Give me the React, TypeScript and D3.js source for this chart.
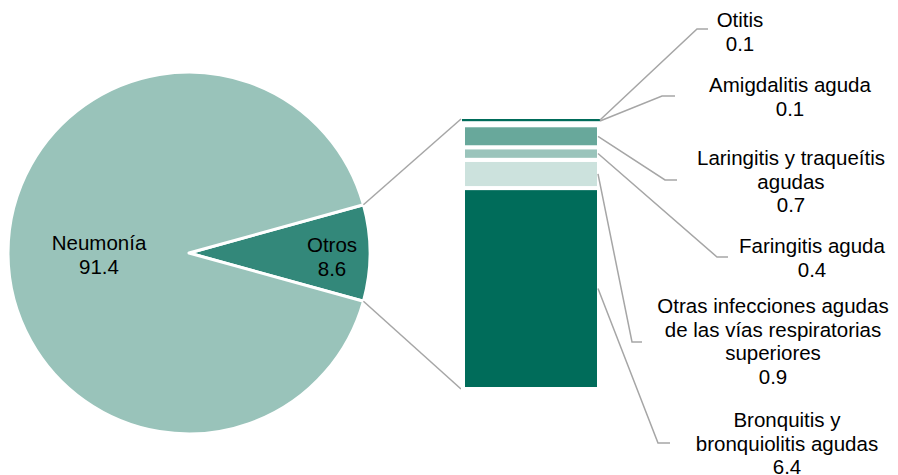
import React from "react";
import * as d3 from "d3";

// ---- data ----
const pieLabels = ["Otros", "Neumonía"];
const pieValues = [8.6, 91.4];

const barLabels = [
  ["Bronquitis y", "bronquiolitis agudas"],
  ["Otras infecciones agudas", "de las vías respiratorias", "superiores"],
  ["Faringitis aguda"],
  ["Laringitis y traqueítis", "agudas"],
  ["Amigdalitis aguda"],
  ["Otitis"],
];
const barValues = [6.4, 0.9, 0.4, 0.7, 0.1, 0.1];
const barValueText = ["6.4", "0.9", "0.4", "0.7", "0.1", "0.1"];

// ---- layout / style ----
const W = 898;
const H = 475;
const cx = 189;
const cy = 253;
const R = 181;
const barX0 = 463;
const barX1 = 599;
const barTop = 119;
const barBottom = 389;
const FONT = "'Liberation Sans', Arial, sans-serif";
const FS = 20.5;
const LH = 23.6;

const pieColors = ["#33887a", "#99c3ba"];
const barColors = ["#006c5a", "#cce2dd", "#9ac4bb", "#68a89b", "#006c5a", "#006c5a"];
const grey = "#a6a6a6";

// label anchor layout: [elbowX, elbowY, endX, textCenterX, firstBaseline]
const labelLayout = [
  [658, 443, 670, 787, 427],
  [632, 342, 642, 773, 313],
  [717, 257, 728, 812, 253],
  [665, 180, 677, 791, 165],
  [662, 96, 675, 790, 92],
  [697, 29, 708, 740, 27],
];

export default function App() {
  const pieGen = d3
    .pie<number>()
    .sort(null)
    .startAngle(Math.PI / 2 - (pieValues[0] / 100) * Math.PI)
    .endAngle(Math.PI / 2 - (pieValues[0] / 100) * Math.PI + 2 * Math.PI);
  const arcs = pieGen(pieValues);
  const arcGen = d3.arc<d3.PieArcDatum<number>>().innerRadius(0).outerRadius(R);

  const total = d3.sum(barValues);
  const y = d3.scaleLinear().domain([0, total]).range([barBottom, barTop]);
  const cum: number[] = [];
  barValues.reduce((acc, v) => {
    cum.push(acc);
    return acc + v;
  }, 0);

  const half = (pieValues[0] / 100) * Math.PI;
  const p1 = [cx + R * Math.cos(half), cy - R * Math.sin(half)];
  const p2 = [cx + R * Math.cos(half), cy + R * Math.sin(half)];

  const pieLabelPos = [
    [332, 252],
    [99, 250],
  ];

  return (
    <svg width={W} height={H} style={{ position: "absolute", left: 0, top: 0 }}>
      <rect width={W} height={H} fill="#ffffff" />
      {/* pie */}
      <g transform={`translate(${cx},${cy})`}>
        {arcs.map((a, i) => (
          <path key={i} d={arcGen(a) || ""} fill={pieColors[i]} stroke="#ffffff" strokeWidth={3} strokeLinejoin="round" />
        ))}
      </g>
      {pieLabels.map((l, i) => (
        <text key={i} fontFamily={FONT} fontSize={FS} textAnchor="middle" fill="#000">
          <tspan x={pieLabelPos[i][0]} y={pieLabelPos[i][1]}>{l}</tspan>
          <tspan x={pieLabelPos[i][0]} y={pieLabelPos[i][1] + LH}>{pieValues[i].toFixed(1)}</tspan>
        </text>
      ))}
      {/* connector lines */}
      <line x1={p1[0]} y1={p1[1]} x2={barX0 - 2} y2={barTop} stroke={grey} strokeWidth={1.5} />
      <line x1={p2[0]} y1={p2[1]} x2={barX0 - 2} y2={barBottom} stroke={grey} strokeWidth={1.5} />
      {/* bar */}
      {barValues.map((v, i) => {
        const yTop = y(cum[i] + v);
        const yBot = y(cum[i]);
        const tiny = yBot - yTop < 5;
        if (i === barValues.length - 1) {
          return (
            <rect key={i} x={barX0 - 1} y={yTop} width={barX1 - barX0 + 2} height={2.2} fill={barColors[i]} />
          );
        }
        if (tiny) return null;
        return (
          <rect
            key={i}
            x={barX0}
            y={yTop}
            width={barX1 - barX0}
            height={yBot - yTop}
            fill={barColors[i]}
            stroke="#ffffff"
            strokeWidth={4}
          />
        );
      })}
      {/* leader lines & labels */}
      {barValues.map((v, i) => {
        const L = labelLayout[i];
        const midY = i >= 4 ? y(total) + (i === 4 ? 2 : 1) : (y(cum[i]) + y(cum[i] + v)) / 2;
        const sx = i >= 4 ? barX1 + 1 : barX1 - 1;
        const lines = [...barLabels[i], barValueText[i]];
        return (
          <g key={i}>
            <polyline
              points={`${sx},${midY} ${L[0]},${L[1]} ${L[2]},${L[1]}`}
              fill="none"
              stroke={grey}
              strokeWidth={1.5}
            />
            <text fontFamily={FONT} fontSize={FS} textAnchor="middle" fill="#000">
              {lines.map((t, j) => (
                <tspan key={j} x={L[3]} y={L[4] + j * LH}>
                  {t}
                </tspan>
              ))}
            </text>
          </g>
        );
      })}
    </svg>
  );
}
